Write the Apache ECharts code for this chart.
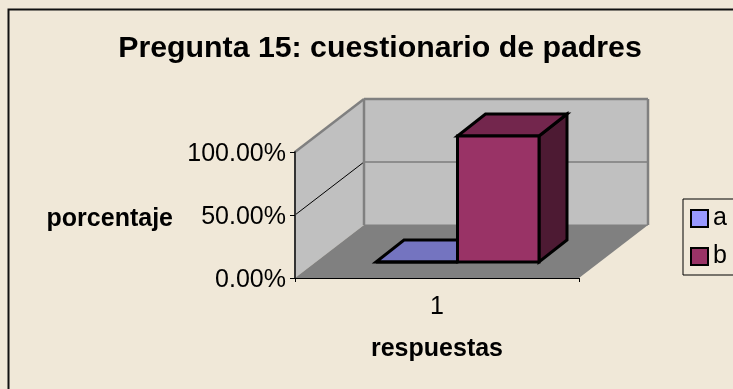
<!DOCTYPE html>
<html>
<head>
<meta charset="utf-8">
<style>html,body{margin:0;padding:0;background:#F0E8D8}#c{width:733px;height:389px}</style>
<script src="https://cdn.jsdelivr.net/npm/echarts@6/dist/echarts.min.js"></script>
</head>
<body>
<div id="c"></div>
<script>
var categories = ['1'];
var seriesNames = ['a', 'b'];
var valuesA = [0];
var valuesB = [1];
var yTicks = [0, 0.5, 1];
var titleText = 'Pregunta 15: cuestionario de padres';
var xName = 'respuestas';
var yName = 'porcentaje';

var font = '"Liberation Sans", Arial, sans-serif';
var WALL = [69, -53], BAR_OFF = [20.5, -16], BAR_D = [28, -22], GROUP = 163 / 284;

function poly(pts, fill, stroke, w) {
  return { type: 'polygon', shape: { points: pts },
    style: { fill: fill, stroke: stroke || null, lineWidth: w || 0, lineJoin: 'miter' } };
}
function line(a, b, color, w) {
  return { type: 'line', shape: { x1: a[0], y1: a[1], x2: b[0], y2: b[1] },
    style: { stroke: color, lineWidth: w, fill: null } };
}
function shift(p, d) { return [p[0] + d[0], p[1] + d[1]]; }

function renderWalls(params, api) {
  var cx = api.coord([0, 0])[0], band = api.size([1, 0])[0];
  var xL = cx - band / 2, xR = cx + band / 2;
  var y0 = api.coord([0, yTicks[0]])[1], y2 = api.coord([0, yTicks[2]])[1], y1 = api.coord([0, yTicks[1]])[1];
  var fl = [xL, y0], fr = [xR, y0], tl = [xL, y2];
  var bl = shift(fl, WALL), br = shift(fr, WALL), btl = shift(tl, WALL), btr = shift([xR, y2], WALL);
  return { type: 'group', children: [
    poly([bl, br, btr, btl], '#C0C0C0'),
    poly([fl, bl, btl, tl], '#C0C0C0'),
    poly([fl, fr, br, bl], '#808080'),
    line(shift([xL, y1], WALL), shift([xR, y1], WALL), '#5a5a5a', 1),
    line([xL, y1], shift([xL, y1], WALL), '#000', 1),
    line(tl, btl, '#808080', 2.5),
    line(bl, btl, '#808080', 2.5),
    line(btl, btr, '#808080', 2.5),
    line(btr, br, '#808080', 2.5),
    line(bl, br, '#808080', 1)
  ] };
}

function barRenderer(index, front, top, side) {
  return function (params, api) {
    var cx = api.coord([0, 0])[0], band = api.size([1, 0])[0];
    var w = band * GROUP / 2, left = cx - band * GROUP / 2 + index * w;
    var yBase = api.coord([0, 0])[1], yVal = api.coord([0, api.value(1)])[1];
    var a = shift([left, yBase], BAR_OFF), b = shift([left + w, yBase], BAR_OFF);
    var c = shift([left + w, yVal], BAR_OFF), d = shift([left, yVal], BAR_OFF);
    var st = 'black';
    return { type: 'group', children: [
      poly([c, shift(c, BAR_D), shift(b, BAR_D), b], side, st, 3),
      poly([d, c, shift(c, BAR_D), shift(d, BAR_D)], top, st, 3),
      poly([a, b, c, d], front, st, 3)
    ] };
  };
}

var option = {
  animation: false,
  backgroundColor: '#F0E8D8',
  textStyle: { fontFamily: font },
  title: { text: titleText, left: 375, textAlign: 'center', top: 29,
    textStyle: { fontFamily: font, fontSize: 30.3, fontWeight: 'bold', color: '#000' } },
  graphic: [{ type: 'polyline', z: -1, silent: true,
    shape: { points: [[8.5, 400], [8.5, 9.5], [740, 9.5]] },
    style: { stroke: '#111', lineWidth: 2, fill: null } }],
  legend: {
    data: seriesNames, orient: 'vertical', left: 683, top: 199,
    padding: [7, 60, 6, 7], itemGap: 13, itemWidth: 17, itemHeight: 17,
    borderColor: '#000', borderWidth: 1, icon: 'rect',
    selectedMode: false,
    textStyle: { fontFamily: font, fontSize: 25, color: '#000' }
  },
  grid: { left: 295, top: 152, width: 284, height: 126, containLabel: false },
  xAxis: {
    type: 'category', data: categories, name: xName, nameLocation: 'middle', nameGap: 59,
    nameTextStyle: { fontFamily: font, fontSize: 25, fontWeight: 'bold', color: '#000' },
    axisLine: { lineStyle: { color: '#000', width: 1 } },
    axisTick: { show: true, length: 4, lineStyle: { color: '#000' } },
    axisLabel: { fontFamily: font, fontSize: 25, color: '#000', margin: 17 },
    z: 5
  },
  yAxis: {
    type: 'value', min: 0, max: 1, interval: 0.5, name: yName, nameLocation: 'middle', nameGap: 122, nameRotate: 0,
    nameTextStyle: { fontFamily: font, fontSize: 25, fontWeight: 'bold', color: '#000', verticalAlign: 'top', lineHeight: 8 },
    splitLine: { show: false },
    axisLine: { show: true, lineStyle: { color: '#333', width: 2 } },
    axisTick: { show: true, length: 5, lineStyle: { color: '#000' } },
    axisLabel: { fontFamily: font, fontSize: 25, color: '#000', margin: 9, verticalAlign: 'top', lineHeight: 4,
      formatter: function (v) { return (v * 100).toFixed(2) + '%'; } },
    z: 5
  },
  series: [
    { type: 'custom', name: 'walls', silent: true, data: [[0, 0]], renderItem: renderWalls, encode: { x: 0, y: 1 }, z: 1 },
    { type: 'custom', name: 'a', data: valuesA.map(function (v, i) { return [i, v]; }),
      renderItem: barRenderer(0, '#9999FF', '#7474C0', '#4D4D80'), encode: { x: 0, y: 1 }, z: 2,
      itemStyle: { color: '#9999FF', borderColor: '#000', borderWidth: 2.5 } },
    { type: 'custom', name: 'b', data: valuesB.map(function (v, i) { return [i, v]; }),
      renderItem: barRenderer(1, '#993366', '#73264D', '#4D1A33'), encode: { x: 0, y: 1 }, z: 3,
      itemStyle: { color: '#993366', borderColor: '#000', borderWidth: 2.5 } }
  ]
};
echarts.init(document.getElementById('c'), null, { renderer: 'canvas' }).setOption(option);
</script>
</body>
</html>
